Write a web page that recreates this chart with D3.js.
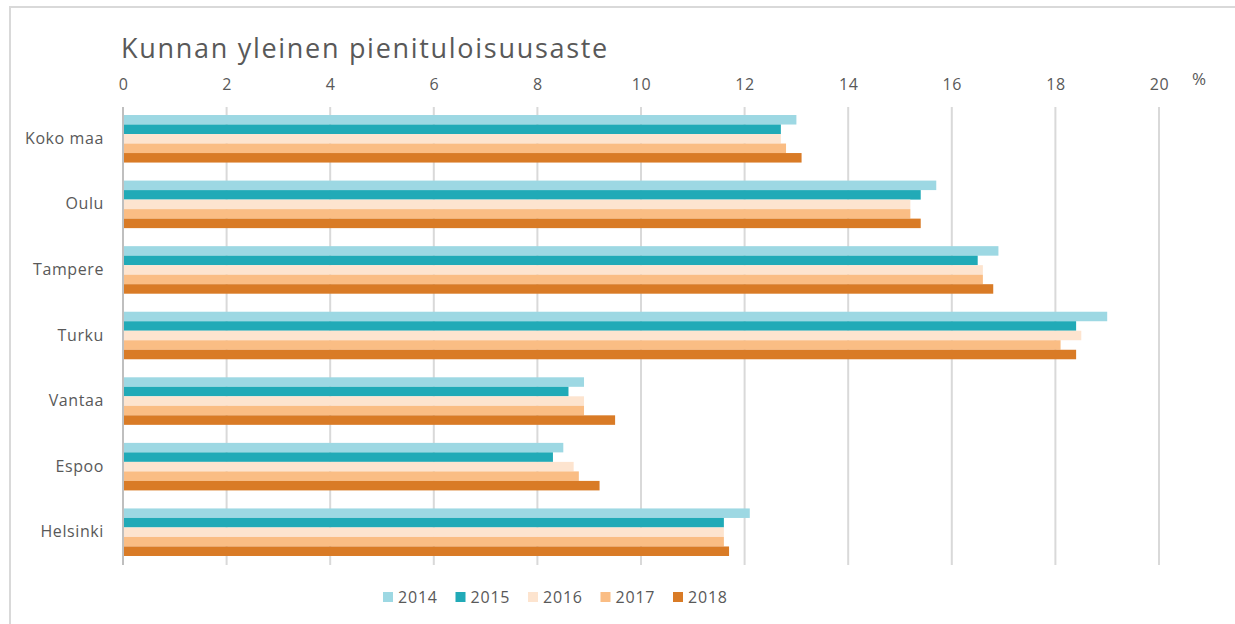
<!DOCTYPE html>
<html>
<head>
<meta charset="utf-8">
<script src="https://cdn.jsdelivr.net/npm/d3@7"></script>
<style>
  body { margin: 0; background: #fff; }
  svg text { font-family: "Open Sans", "Noto Sans", sans-serif; fill: #595959; }
</style>
</head>
<body>
<div class="chart"></div>
<script>
var categories = ["Koko maa", "Oulu", "Tampere", "Turku", "Vantaa", "Espoo", "Helsinki"];
var years = ["2014", "2015", "2016", "2017", "2018"];
var colors = ["#9dd8e3", "#21aab7", "#fde4cf", "#fabd84", "#d97b26"];
var v2014 = [13.0, 15.7, 16.9, 19.0, 8.9, 8.5, 12.1];
var v2015 = [12.7, 15.4, 16.5, 18.4, 8.6, 8.3, 11.6];
var v2016 = [12.7, 15.2, 16.6, 18.5, 8.9, 8.7, 11.6];
var v2017 = [12.8, 15.2, 16.6, 18.1, 8.9, 8.8, 11.6];
var v2018 = [13.1, 15.4, 16.8, 18.4, 9.5, 9.2, 11.7];
var xTicks = [0, 2, 4, 6, 8, 10, 12, 14, 16, 18, 20];

var series = [v2014, v2015, v2016, v2017, v2018];

var svgWidth = 1235;
var svgHeight = 624;
var margin = { top: 106, left: 123, right: 76, bottom: 59 };
var width = svgWidth - margin.left - margin.right;
var height = svgHeight - margin.top - margin.bottom;

var svg = d3.select(".chart")
    .append("svg")
    .attr("width", svgWidth)
    .attr("height", svgHeight);

// outer frame (only top and left edges are visible in the shot)
svg.append("rect")
    .attr("x", 10)
    .attr("y", 7)
    .attr("width", 1300)
    .attr("height", 700)
    .attr("fill", "none")
    .attr("stroke", "#d9d9d9")
    .attr("stroke-width", 2);

svg.append("text")
    .attr("x", 121)
    .attr("y", 58)
    .style("font-size", "27px")
    .style("letter-spacing", "1.7px")
    .style("fill", "#595959")
    .text("Kunnan yleinen pienituloisuusaste");

var chart = svg.append("g")
    .attr("transform", "translate(" + margin.left + "," + margin.top + ")");

var xScale = d3.scaleLinear().domain([0, 20]).range([0, 1036]);
var yScale = d3.scaleBand().domain(categories).range([0, height]).paddingInner(0.275).paddingOuter(0.1375);
var innerScale = d3.scaleBand().domain(years).range([0, yScale.bandwidth()]);

// gridlines
chart.append("g")
    .selectAll("line")
    .data(xTicks)
    .enter()
    .append("line")
    .attr("x1", function(d) { return xScale(d); })
    .attr("x2", function(d) { return xScale(d); })
    .attr("y1", 1)
    .attr("y2", height)
    .attr("stroke", function(d) { return d === 0 ? "#bfbfbf" : "#d9d9d9"; })
    .attr("stroke-width", 2);

// top axis labels
var topAxis = d3.axisTop(xScale).tickValues(xTicks).tickSize(0).tickPadding(0);
var ax = chart.append("g")
    .attr("transform", "translate(0,-16)")
    .call(topAxis);
ax.select(".domain").remove();
ax.selectAll("text")
    .style("font-size", "16px")
    .style("letter-spacing", "0.6px")
    .style("font-family", "\"Open Sans\", sans-serif")
    .attr("fill", "#595959");

chart.append("text")
    .attr("x", xScale(20) + 33)
    .attr("y", -21)
    .style("font-size", "17px")
    .text("%");

// category labels
var leftAxis = d3.axisLeft(yScale).tickSize(0).tickPadding(19);
var ay = chart.append("g").call(leftAxis);
ay.select(".domain").remove();
ay.selectAll("text")
    .style("font-size", "16px")
    .style("letter-spacing", "0.6px")
    .style("font-family", "\"Open Sans\", sans-serif")
    .attr("fill", "#595959");

// bars
years.forEach(function(year, i) {
    chart.append("g")
        .selectAll("rect")
        .data(series[i])
        .enter()
        .append("rect")
        .attr("x", xScale(0) + 1)
        .attr("y", function(d, j) { return yScale(categories[j]) + innerScale(year); })
        .attr("width", function(d) { return xScale(d) - xScale(0) - 1; })
        .attr("height", innerScale.bandwidth())
        .attr("fill", colors[i]);
});

// legend
var legend = svg.append("g").attr("transform", "translate(383,592)");
var item = legend.selectAll("g")
    .data(years)
    .enter()
    .append("g")
    .attr("transform", function(d, i) { return "translate(" + (i * 72.5) + ",0)"; });
item.append("rect")
    .attr("width", 10)
    .attr("height", 10)
    .attr("fill", function(d, i) { return colors[i]; });
item.append("text")
    .attr("x", 15)
    .attr("y", 11)
    .style("font-size", "16px")
    .style("letter-spacing", "0.8px")
    .text(function(d) { return d; });
</script>
</body>
</html>
